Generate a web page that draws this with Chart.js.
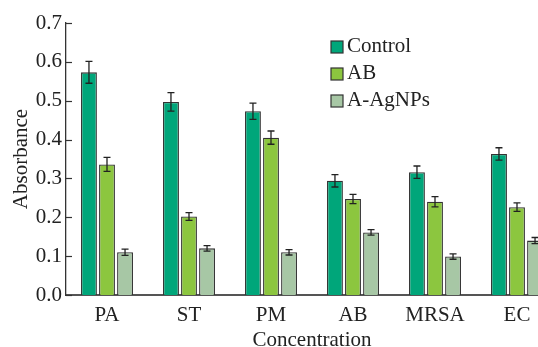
<!DOCTYPE html>
<html>
<head>
<meta charset="utf-8">
<script src="https://cdn.jsdelivr.net/npm/chart.js@4"></script>
<style>
  html, body { margin: 0; padding: 0; background: #fff; overflow: hidden; }
  #wrap { width: 580px; height: 347px; }
</style>
</head>
<body>
<div id="wrap"><canvas id="grafik" width="580" height="347"></canvas></div>
<script>
// data
const kategori = ["PA", "ST", "PM", "AB", "MRSA", "EC"];
const control = [0.573, 0.497, 0.473, 0.294, 0.316, 0.363];
const ab = [0.336, 0.202, 0.405, 0.247, 0.240, 0.226];
const agnps = [0.110, 0.120, 0.110, 0.161, 0.099, 0.140];
const errControl = [0.028, 0.024, 0.021, 0.016, 0.016, 0.016];
const errAb = [0.018, 0.010, 0.017, 0.012, 0.013, 0.011];
const errAgnps = [0.008, 0.007, 0.007, 0.007, 0.007, 0.008];
const yTicks = [0, 0.1, 0.2, 0.3, 0.4, 0.5, 0.6, 0.7];

const fontSerif = "'Liberation Serif', 'Times New Roman', serif";

// error bar + tick ke dalam + legenda
const plugTambahan = {
  id: "tambahan",
  afterDatasetsDraw(chart) {
    const ctx = chart.ctx;
    const y = chart.scales.y;
    ctx.save();
    ctx.strokeStyle = "#222";
    ctx.lineWidth = 1.3;
    chart.data.datasets.forEach((ds, i) => {
      const meta = chart.getDatasetMeta(i);
      meta.data.forEach((bar, j) => {
        const v = ds.data[j];
        const e = ds.err[j];
        const yt = y.getPixelForValue(v + e);
        const yb = y.getPixelForValue(v - e);
        const x = bar.x;
        ctx.beginPath();
        ctx.moveTo(x, yt); ctx.lineTo(x, yb);
        ctx.moveTo(x - 3.5, yt); ctx.lineTo(x + 3.5, yt);
        ctx.moveTo(x - 3.5, yb); ctx.lineTo(x + 3.5, yb);
        ctx.stroke();
      });
    });

    // tick y menghadap ke dalam
    ctx.strokeStyle = "#333";
    ctx.lineWidth = 1.2;
    const left = chart.chartArea.left;
    yTicks.forEach(t => {
      const py = Math.round(y.getPixelForValue(t)) + 0.5;
      ctx.beginPath();
      ctx.moveTo(left, py); ctx.lineTo(left + 6, py);
      ctx.stroke();
    });

    // legenda
    ctx.font = "21px " + fontSerif;
    ctx.textBaseline = "middle";
    ctx.textAlign = "left";
    chart.data.datasets.forEach((ds, i) => {
      const cy = 47 + i * 27;
      ctx.fillStyle = ds.backgroundColor;
      ctx.fillRect(331, cy - 6, 12, 12);
      ctx.strokeStyle = "#333";
      ctx.lineWidth = 1.2;
      ctx.strokeRect(331, cy - 6, 12, 12);
      ctx.fillStyle = "#222";
      ctx.fillText(ds.label, 347, cy - 1);
    });
    ctx.restore();
  }
};

const ctx = document.getElementById("grafik").getContext("2d");
new Chart(ctx, {
  type: "bar",
  data: {
    labels: kategori,
    datasets: [
      { label: "Control", data: control, err: errControl, backgroundColor: "#00a67a" },
      { label: "AB", data: ab, err: errAb, backgroundColor: "#8cc63f" },
      { label: "A-AgNPs", data: agnps, err: errAgnps, backgroundColor: "#a7c7a5" }
    ]
  },
  options: {
    responsive: false,
    animation: false,
    layout: { padding: { top: 23, right: 22, left: 0, bottom: 0 } },
    datasets: {
      bar: {
        borderColor: "#333",
        borderWidth: 1.3,
        categoryPercentage: 0.66,
        barPercentage: 0.88
      }
    },
    plugins: {
      legend: { display: false },
      tooltip: { enabled: false }
    },
    scales: {
      x: {
        grid: { display: false, drawTicks: false },
        border: { display: true, color: "#555", width: 2 },
        ticks: {
          color: "#222",
          font: { family: fontSerif, size: 21 },
          padding: 8,
          maxRotation: 0,
          autoSkip: false
        },
        title: {
          display: true,
          text: "Concentration",
          color: "#222",
          font: { family: fontSerif, size: 21, lineHeight: 0.65 },
          padding: { top: 0, bottom: 0 }
        },
        afterFit(scale) { scale.height = 52; }
      },
      y: {
        min: 0,
        max: 0.7,
        grid: { display: false, drawTicks: false },
        border: { display: true, color: "#333", width: 1.3 },
        ticks: {
          stepSize: 0.1,
          color: "#222",
          font: { family: fontSerif, size: 21 },
          padding: 4,
          callback: v => Number(v).toFixed(1)
        },
        title: {
          display: true,
          text: "Absorbance",
          color: "#222",
          font: { family: fontSerif, size: 21 },
          padding: { top: 9, bottom: 0 }
        },
        afterFit(scale) { scale.width = 66; }
      }
    }
  },
  plugins: [plugTambahan]
});
</script>
</body>
</html>
